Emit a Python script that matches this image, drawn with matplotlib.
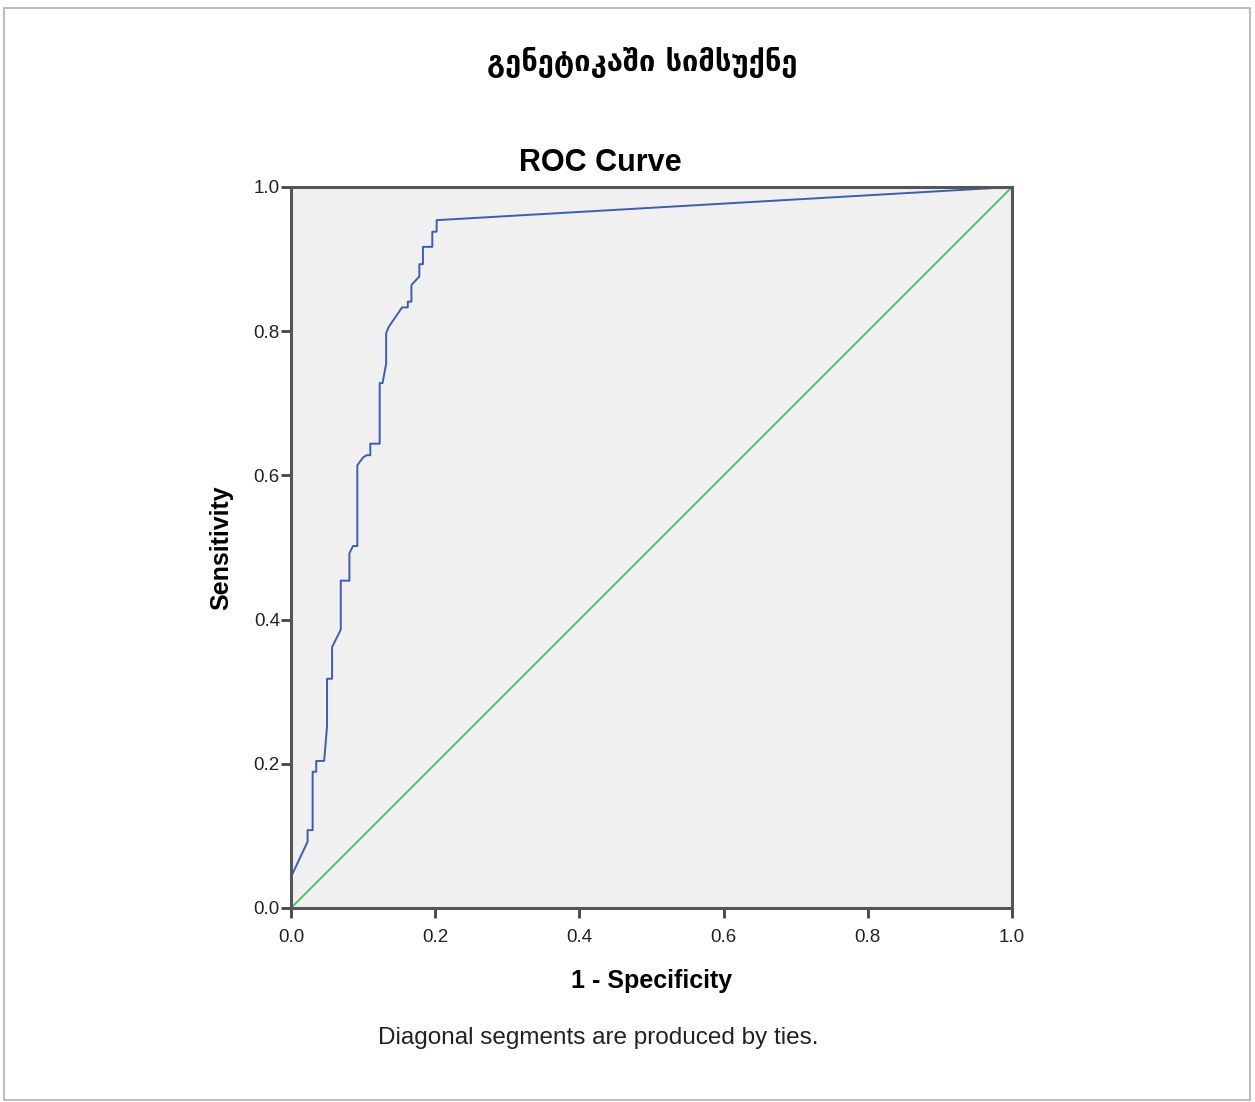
import matplotlib
matplotlib.use("Agg")
import matplotlib.pyplot as plt
from matplotlib.patches import Rectangle

# ROC curve points (1 - specificity, sensitivity)
fpr = [0.0, 0.0, 0.023, 0.023, 0.030, 0.030, 0.035, 0.035, 0.046, 0.050, 0.050,
       0.057, 0.057, 0.069, 0.069, 0.081, 0.081, 0.086, 0.092, 0.092, 0.100,
       0.105, 0.110, 0.110, 0.123, 0.123, 0.127, 0.132, 0.132, 0.135, 0.139,
       0.154, 0.162, 0.162, 0.167, 0.167, 0.178, 0.178, 0.183, 0.183, 0.196,
       0.196, 0.202, 0.202, 1.0]
tpr = [0.0, 0.043, 0.092, 0.108, 0.108, 0.189, 0.189, 0.204, 0.204, 0.252, 0.318,
       0.318, 0.362, 0.386, 0.454, 0.454, 0.492, 0.502, 0.502, 0.614, 0.625,
       0.628, 0.628, 0.644, 0.644, 0.728, 0.728, 0.755, 0.797, 0.805, 0.811,
       0.833, 0.833, 0.841, 0.841, 0.864, 0.876, 0.893, 0.893, 0.917, 0.917,
       0.938, 0.938, 0.954, 1.0]
ref_x = [0.0, 1.0]
ref_y = [0.0, 1.0]
ticks = [0.0, 0.2, 0.4, 0.6, 0.8, 1.0]

fig = plt.figure(figsize=(12.55, 11.02), dpi=100)
fig.patches.append(Rectangle((4/1255, 2/1102), 1246/1255, 1092/1102, transform=fig.transFigure,
                             fill=False, edgecolor='#b0b0b0', linewidth=1.2))

ax = fig.add_axes([291/1255, 1 - 908/1102, 721/1255, 721/1102])
ax.set_facecolor('#f0f0f0')
ax.plot(ref_x, ref_y, color='#4fc35a', linewidth=1.4)
ax.plot(fpr, tpr, color='#3d5cb8', linewidth=1.4)
ax.set_xlim(0, 1)
ax.set_ylim(0, 1)
ax.set_xticks(ticks)
ax.set_yticks(ticks)
ax.set_xticklabels([f"{t:.1f}" for t in ticks], family='Liberation Sans', fontsize=13.5, color='#222222')
ax.set_yticklabels([f"{t:.1f}" for t in ticks], family='Liberation Sans', fontsize=13.5, color='#222222')
for s in ax.spines.values():
    s.set_linewidth(2.2)
    s.set_color('#555555')
ax.tick_params(axis='x', direction='out', length=7, width=2, color='#444444', pad=8)
ax.tick_params(axis='y', direction='out', length=7, width=2, color='#444444', pad=1)

ax.set_xlabel('1 - Specificity', family='Liberation Sans', fontsize=18, fontweight='bold', labelpad=17)
ax.set_ylabel('Sensitivity', family='Liberation Sans', fontsize=18, fontweight='bold', labelpad=15)

fig.text(600/1255, 1 - 163/1102, 'ROC Curve', family='Liberation Sans', fontsize=22,
         fontweight='bold', ha='center', va='center')
fig.text(642/1255, 1 - 62/1102, 'გენეტიკაში სიმსუქნე', family='DejaVu Sans', fontsize=21,
         fontweight='bold', ha='center', va='center')
fig.text(598/1255, 1 - 1038/1102, 'Diagonal segments are produced by ties.', family='Liberation Sans',
         fontsize=17.5, ha='center', va='center', color='#222222')

fig.savefig('out.png', dpi=100)
